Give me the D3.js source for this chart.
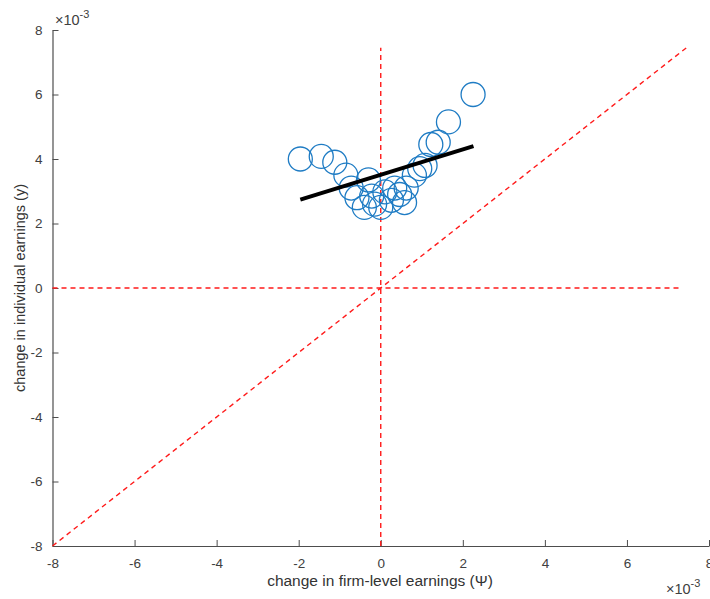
<!DOCTYPE html>
<html>
<head>
<meta charset="utf-8">
<script src="https://cdn.jsdelivr.net/npm/d3@7"></script>
<style>
  body { margin: 0; background: #fff; }
  svg { display: block; }
  text { font-family: "Liberation Sans", Arial, Helvetica, sans-serif; }
</style>
</head>
<body>
<svg id="chart" width="710" height="599"></svg>
<script>
// Data (values in units of 1e-3)
const xTicks = [-8, -6, -4, -2, 0, 2, 4, 6, 8];
const yTicks = [-8, -6, -4, -2, 0, 2, 4, 6, 8];
const psi = [-1.96, -1.45, -1.12, -0.85, -0.72, -0.58, -0.40, -0.30, -0.22, -0.15, 0.00, 0.10, 0.26, 0.34, 0.46, 0.58, 0.62, 0.82, 0.95, 1.08, 1.22, 1.40, 1.65, 2.25];
const yVals = [4.00, 4.08, 3.90, 3.50, 3.10, 2.80, 2.50, 3.35, 2.85, 2.60, 2.50, 2.98, 2.72, 3.10, 2.90, 2.65, 3.10, 3.50, 3.70, 3.80, 4.45, 4.52, 5.15, 6.00];
const fitX = [-1.96, 2.26];
const fitY = [2.74, 4.40];
const refMax = 7.45;
const xLabel = "change in firm-level earnings (\u03A8)";
const yLabel = "change in individual earnings (y)";

(function () {
const svg = d3.select("#chart");
const mLeft = 52.5, mRight = 709, mTop = 30, mBottom = 546;
const x = d3.scaleLinear().domain([-8, 8]).range([mLeft, mRight]);
const y = d3.scaleLinear().domain([-8, 8]).range([mBottom, mTop]);
const axisColor = "#4d4d4d";
const textColor = "#404040";
const fmt = d => String(d);

// Axes
const xAxis = svg.append("g").attr("transform", `translate(0,${mBottom})`)
  .call(d3.axisBottom(x).tickValues(xTicks).tickFormat(fmt).tickSizeInner(-6).tickSizeOuter(0).tickPadding(12));
const yAxis = svg.append("g").attr("transform", `translate(${mLeft},0)`)
  .call(d3.axisLeft(y).tickValues(yTicks).tickFormat(fmt).tickSizeInner(-6).tickSizeOuter(0).tickPadding(10));
[xAxis, yAxis].forEach(g => {
  g.select(".domain").attr("stroke", axisColor).attr("stroke-width", 1.2);
  g.selectAll(".tick line").attr("stroke", axisColor).attr("stroke-width", 1);
  g.selectAll(".tick text").attr("fill", textColor).attr("font-size", 13.5)
    .attr("font-family", "'Liberation Sans', Arial, sans-serif");
});

// Red dashed reference lines
const red = "#ff1a1a";
const dash = "5,4";
svg.append("line").attr("x1", x(0)).attr("x2", x(0)).attr("y1", y(-8)).attr("y2", y(refMax))
  .attr("stroke", red).attr("stroke-width", 1.4).attr("stroke-dasharray", dash);
svg.append("line").attr("x1", x(-8)).attr("x2", x(7.3)).attr("y1", y(0)).attr("y2", y(0))
  .attr("stroke", red).attr("stroke-width", 1.6).attr("stroke-dasharray", dash);
svg.append("line").attr("x1", x(-8)).attr("x2", x(refMax)).attr("y1", y(-8)).attr("y2", y(refMax))
  .attr("stroke", red).attr("stroke-width", 1.4).attr("stroke-dasharray", dash);

// Scatter circles
svg.append("g").selectAll("circle").data(psi.map((v, i) => [v, yVals[i]]))
  .join("circle")
  .attr("cx", d => x(d[0])).attr("cy", d => y(d[1])).attr("r", 12)
  .attr("fill", "none").attr("stroke", "#1f7cc4").attr("stroke-width", 1.3);

// Fit line
svg.append("line").attr("x1", x(fitX[0])).attr("x2", x(fitX[1]))
  .attr("y1", y(fitY[0])).attr("y2", y(fitY[1]))
  .attr("stroke", "#000").attr("stroke-width", 4);

// Axis labels
svg.append("text").attr("x", 380).attr("y", 586)
  .attr("text-anchor", "middle").attr("font-size", 15.5).attr("fill", "#333").text(xLabel);
svg.append("text").attr("transform", `translate(25,288) rotate(-90)`)
  .attr("text-anchor", "middle").attr("font-size", 14.5).attr("fill", "#333").text(yLabel);

// Exponent labels
function expLabel(xp, yp) {
  const t = svg.append("text").attr("x", xp).attr("y", yp).attr("font-size", 14.5).attr("fill", textColor);
  t.append("tspan").text("\u00D710");
  t.append("tspan").attr("dy", -7).attr("font-size", 11).text("-3");
}
expLabel(55, 25);
expLabel(666, 594);
})();
</script>
</body>
</html>
